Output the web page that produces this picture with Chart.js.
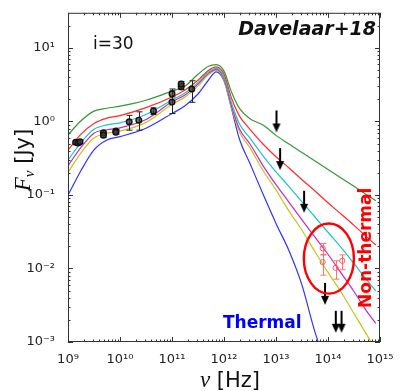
<!DOCTYPE html>
<html>
<head>
<meta charset="utf-8">
<script src="https://cdn.jsdelivr.net/npm/chart.js@4.4.1/dist/chart.umd.min.js"></script>
<style>
  html, body { margin: 0; padding: 0; background: #fff; }
  #wrap { width: 402px; height: 391px; }
</style>
</head>
<body>
<div id="wrap"><canvas id="sedChart"></canvas></div>
<script>
// model grid, Hz
const nuGrid = [1e9, 1.78e9, 3.16e9, 5.62e9, 1e10, 3.16e10, 1e11, 1.78e11, 3.16e11, 5.01e11, 7.08e11, 1e12, 1.41e12, 2e12, 3.16e12, 5.62e12, 1e13, 1.78e13, 3.16e13, 5.62e13, 1e14, 1.78e14, 3.16e14, 5.62e14, 8.32e14];

// model SEDs, Jy (top to bottom)
const fluxGreen = [0.656, 1.02, 1.38, 1.51, 1.61, 1.94, 2.59, 3.02, 4.37, 5.62, 5.93, 4.83, 2.45, 1.49, 1.09, 0.891, 0.646, 0.493, 0.378, 0.29, 0.222, 0.17, 0.131, 0.1, 0.0832];
const fluxRed = [0.407, 0.671, 0.94, 1.11, 1.2, 1.54, 2.15, 2.67, 3.63, 4.93, 5.5, 4.37, 2.03, 1.17, 0.782, 0.493, 0.331, 0.233, 0.161, 0.113, 0.0782, 0.055, 0.0386, 0.0267, 0.0209];
const fluxCyan = [0.299, 0.516, 0.782, 0.897, 0.955, 1.24, 1.96, 2.44, 3.37, 4.65, 5.25, 3.98, 1.74, 0.912, 0.593, 0.341, 0.206, 0.13, 0.0807, 0.0501, 0.0311, 0.0194, 0.0117, 0.00692, 0.00493];
const fluxMagenta = [0.249, 0.444, 0.692, 0.771, 0.818, 1.06, 1.85, 2.29, 3.21, 4.5, 5.09, 3.8, 1.58, 0.782, 0.493, 0.251, 0.138, 0.0794, 0.0457, 0.0267, 0.0156, 0.0087, 0.00486, 0.00259, 0.00179];
const fluxYellow = [0.203, 0.374, 0.593, 0.692, 0.736, 0.97, 1.71, 2.15, 3.02, 4.3, 4.93, 3.63, 1.49, 0.713, 0.437, 0.215, 0.117, 0.0603, 0.0331, 0.0169, 0.00885, 0.00479, 0.00244, 0.00124, 0.00078];
const fluxBlue = [0.0991, 0.215, 0.41, 0.558, 0.621, 0.807, 1.28, 1.63, 2.36, 3.63, 4.71, 3.56, 1.45, 0.564, 0.267, 0.103, 0.041, 0.0174, 0.00593, 0.00136, 0.000437, null, null, null, null];

// radio/mm observations
const obsNu = [1.4e9, 1.55e9, 1.7e9, 4.8e9, 4.8e9, 8.3e9, 8.3e9, 1.5e10, 2.3e10, 4.4e10, 1.0e11, 1.0e11, 1.5e11, 1.5e11, 2.4e11];
const obsFlux = [0.52, 0.51, 0.53, 0.70, 0.65, 0.74, 0.71, 0.99, 1.04, 1.39, 1.83, 2.37, 2.97, 3.22, 2.76];
const obsLo = [0.49, 0.48, 0.50, 0.66, 0.61, 0.70, 0.67, 0.76, 0.76, 1.24, 1.28, 2.15, 2.7, 2.95, 1.82];
const obsHi = [0.55, 0.54, 0.56, 0.74, 0.69, 0.78, 0.75, 1.21, 1.35, 1.53, 2.76, 2.6, 3.25, 3.5, 3.57];

// NIR detections
const nirNu = [7.9e13, 7.9e13, 1.4e14, 1.88e14];
const nirFlux = [0.0188, 0.0122, 0.0102, 0.0127];
const nirLo = [0.0153, 0.0081, 0.00715, 0.0096];
const nirHi = [0.0219, 0.0154, 0.0127, 0.0153];

// upper limits (top of arrow)
const limNu = [1.02e13, 1.2e13, 3.47e13, 8.77e13, 1.41e14, 1.82e14];
const limFlux = [1.41, 0.434, 0.114, 0.00637, 0.00266, 0.00266];

// highlighted region
const ellipseNu = [3.43e13, 3.15e14];
const ellipseFlux = [0.00455, 0.0408];

const xTickValues = [1e9, 1e10, 1e11, 1e12, 1e13, 1e14, 1e15];
const xTickLabels = ['10⁹', '10¹⁰', '10¹¹', '10¹²', '10¹³', '10¹⁴', '10¹⁵'];
const yTickValues = [1e-3, 1e-2, 1e-1, 1, 10];
const yTickLabels = ['10⁻³', '10⁻²', '10⁻¹', '10⁰', '10¹'];

const pts = (xs, ys) => xs.map((v, i) => ({x: v, y: ys[i]}));

const curve = (vals, color) => ({
    data: pts(nuGrid, vals),
    showLine: true,
    borderColor: color,
    borderWidth: 1.2,
    pointRadius: 0,
    fill: false,
    cubicInterpolationMode: 'monotone'
});

function makeArrow() {
    const c = document.createElement('canvas');
    c.width = 12;
    c.height = 48;
    const g = c.getContext('2d');
    g.strokeStyle = '#000';
    g.fillStyle = '#000';
    g.lineWidth = 2;
    g.beginPath();
    g.moveTo(6, 24);
    g.lineTo(6, 39);
    g.stroke();
    g.beginPath();
    g.moveTo(2, 37);
    g.lineTo(10, 37);
    g.lineTo(6, 46);
    g.closePath();
    g.fill();
    return c;
}

const errorBars = {
    id: 'errorBars',
    beforeDatasetDraw(chart, args) {
        const ds = chart.data.datasets[args.index];
        if (!ds.errLo) return;
        const {ctx, scales: {x, y}} = chart;
        ctx.save();
        ctx.strokeStyle = ds.errColor;
        ctx.lineWidth = 1;
        ds.data.forEach((p, i) => {
            const px = Math.round(x.getPixelForValue(p.x)) + 0.5;
            const y1 = y.getPixelForValue(ds.errLo[i]);
            const y2 = y.getPixelForValue(ds.errHi[i]);
            ctx.beginPath();
            ctx.moveTo(px, y1);
            ctx.lineTo(px, y2);
            ctx.moveTo(px - 3, y1);
            ctx.lineTo(px + 3, y1);
            ctx.moveTo(px - 3, y2);
            ctx.lineTo(px + 3, y2);
            ctx.stroke();
        });
        ctx.restore();
    }
};

const decorations = {
    id: 'decorations',
    afterDatasetsDraw(chart) {
        const {ctx, chartArea: a, scales: {x, y}} = chart;
        ctx.save();

        // red ellipse
        const ex1 = x.getPixelForValue(ellipseNu[0]), ex2 = x.getPixelForValue(ellipseNu[1]);
        const ey1 = y.getPixelForValue(ellipseFlux[0]), ey2 = y.getPixelForValue(ellipseFlux[1]);
        ctx.strokeStyle = '#ff0000';
        ctx.lineWidth = 2.4;
        ctx.beginPath();
        ctx.ellipse((ex1 + ex2) / 2, (ey1 + ey2) / 2, Math.abs(ex2 - ex1) / 2, Math.abs(ey1 - ey2) / 2, 0, 0, Math.PI * 2);
        ctx.stroke();

        // frame
        ctx.strokeStyle = '#333';
        ctx.lineWidth = 1;
        ctx.strokeRect(a.left + 0.5, a.top + 0.5, a.right - a.left - 1, a.bottom - a.top - 1);

        // inward tick marks on all four sides
        const tickX = (v, len) => {
            const p = Math.round(x.getPixelForValue(v)) + 0.5;
            ctx.moveTo(p, a.bottom); ctx.lineTo(p, a.bottom - len);
            ctx.moveTo(p, a.top); ctx.lineTo(p, a.top + len);
        };
        const tickY = (v, len) => {
            const p = Math.round(y.getPixelForValue(v)) + 0.5;
            ctx.moveTo(a.left, p); ctx.lineTo(a.left + len, p);
            ctx.moveTo(a.right, p); ctx.lineTo(a.right - len, p);
        };
        ctx.beginPath();
        for (let e = 9; e < 15; e++) {
            tickX(Math.pow(10, e), 5);
            for (let m = 2; m < 10; m++) tickX(m * Math.pow(10, e), 2.5);
        }
        tickX(1e15, 5);
        for (let e = -3; e < 2; e++) {
            tickY(Math.pow(10, e), 5);
            for (let m = 2; m < 10; m++) {
                const v = m * Math.pow(10, e);
                if (v < y.max) tickY(v, 2.5);
            }
        }
        ctx.stroke();
        ctx.restore();
    },
    afterDraw(chart) {
        const {ctx, chartArea: a} = chart;
        ctx.save();
        ctx.textBaseline = 'alphabetic';

        ctx.fillStyle = '#111';
        ctx.font = '17px "DejaVu Sans"';
        ctx.textAlign = 'left';
        ctx.fillText('i=30', a.left + 25, a.top + 36);

        ctx.font = 'italic bold 19px "DejaVu Sans"';
        ctx.textAlign = 'right';
        ctx.fillText('Davelaar+18', a.right - 4, a.top + 22);

        ctx.fillStyle = '#0000ff';
        ctx.font = 'bold 17px "DejaVu Sans"';
        ctx.textAlign = 'left';
        ctx.fillText('Thermal', a.left + 155, a.bottom - 14);

        ctx.save();
        ctx.translate(a.right - 9, a.top + 235);
        ctx.rotate(-Math.PI / 2);
        ctx.fillStyle = '#ff0000';
        ctx.textAlign = 'center';
        ctx.fillText('Non-thermal', 0, 0);
        ctx.restore();

        // x axis title: ν [Hz]
        ctx.fillStyle = '#111';
        ctx.textAlign = 'left';
        const mathFont = 'italic 23px "Liberation Serif"';
        const textFont = '21px "DejaVu Sans"';
        ctx.font = mathFont;
        const wNu = ctx.measureText('ν').width;
        ctx.font = textFont;
        const wHz = ctx.measureText(' [Hz]').width;
        let sx = 230 - (wNu + wHz) / 2;
        ctx.font = mathFont;
        ctx.fillText('ν', sx, 387);
        ctx.font = textFont;
        ctx.fillText(' [Hz]', sx + wNu, 387);

        // y axis title: F_ν [Jy]
        ctx.save();
        ctx.translate(30, 160);
        ctx.rotate(-Math.PI / 2);
        ctx.font = mathFont;
        const wF = ctx.measureText('F').width;
        ctx.font = 'italic 15px "Liberation Serif"';
        const wSub = ctx.measureText('ν').width;
        ctx.font = textFont;
        const wJy = ctx.measureText(' [Jy]').width;
        sx = -(wF + wSub + wJy) / 2;
        ctx.font = mathFont;
        ctx.fillText('F', sx, 0);
        ctx.font = 'italic 15px "Liberation Serif"';
        ctx.fillText('ν', sx + wF, 4);
        ctx.font = textFont;
        ctx.fillText(' [Jy]', sx + wF + wSub, 0);
        ctx.restore();

        ctx.restore();
    }
};

new Chart(document.getElementById('sedChart'), {
    type: 'scatter',
    data: {
        datasets: [
            {
                data: pts(limNu, limFlux),
                pointStyle: makeArrow(),
                pointRadius: 3
            },
            {
                data: pts(nirNu, nirFlux),
                errLo: nirLo,
                errHi: nirHi,
                errColor: 'rgba(255, 90, 90, 0.85)',
                pointRadius: 2.6,
                borderWidth: 1,
                borderColor: '#ff5a5a',
                backgroundColor: 'rgba(255, 255, 255, 0)'
            },
            {
                data: pts(obsNu, obsFlux),
                errLo: obsLo,
                errHi: obsHi,
                errColor: '#222',
                pointRadius: 2.8,
                borderWidth: 1.4,
                borderColor: '#111',
                backgroundColor: 'rgba(60, 60, 60, 0.75)'
            },
            curve(fluxGreen, '#339933'),
            curve(fluxRed, '#ff2a2a'),
            curve(fluxCyan, '#1cc4c4'),
            curve(fluxMagenta, '#c42ac4'),
            curve(fluxYellow, '#c4c41c'),
            curve(fluxBlue, '#3333ff')
        ]
    },
    options: {
        responsive: true,
        maintainAspectRatio: false,
        animation: false,
        events: [],
        layout: { padding: { top: 7, right: 22, left: 0, bottom: 0 } },
        elements: { line: { capBezierPoints: false } },
        plugins: {
            legend: { display: false },
            tooltip: { enabled: false }
        },
        scales: {
            x: {
                type: 'logarithmic',
                min: 1e9,
                max: 1e15,
                grid: { display: false },
                border: { display: false },
                ticks: {
                    font: { family: 'DejaVu Sans', size: 13 },
                    color: '#222',
                    padding: 2,
                    maxRotation: 0,
                    autoSkip: false,
                    callback: (v, i) => xTickLabels[i]
                },
                afterBuildTicks: s => { s.ticks = xTickValues.map(v => ({value: v})); },
                afterFit: s => { s.height = 49; }
            },
            y: {
                type: 'logarithmic',
                min: 1e-3,
                max: 30,
                grid: { display: false },
                border: { display: false },
                ticks: {
                    font: { family: 'DejaVu Sans', size: 13 },
                    color: '#222',
                    padding: 5,
                    autoSkip: false,
                    callback: (v, i) => yTickLabels[i]
                },
                afterBuildTicks: s => { s.ticks = yTickValues.map(v => ({value: v})); },
                afterFit: s => { s.width = 68; }
            }
        }
    },
    plugins: [errorBars, decorations]
});
</script>
</body>
</html>
